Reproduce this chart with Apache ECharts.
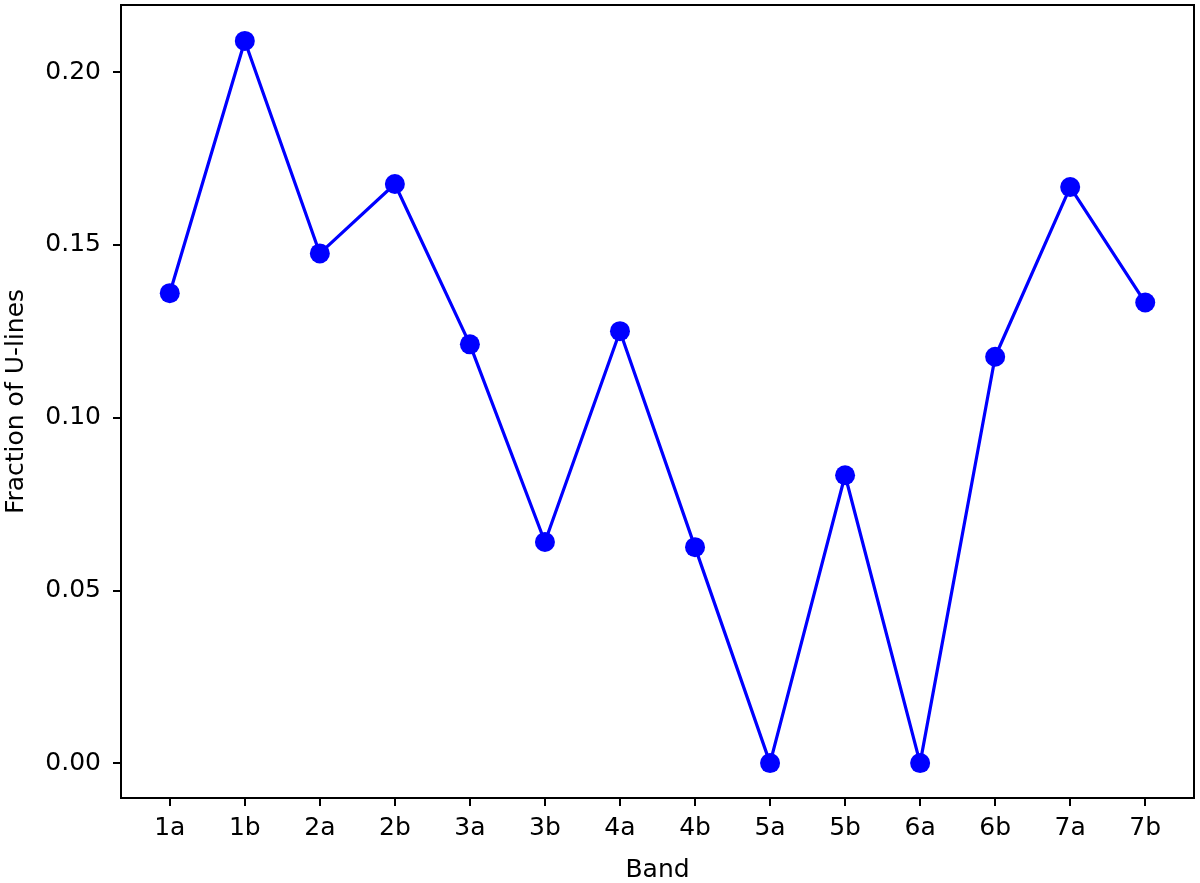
<!DOCTYPE html>
<html><head><meta charset="utf-8">
<script src="https://cdn.jsdelivr.net/npm/echarts@6/dist/echarts.min.js"></script>
<style>html,body{margin:0;padding:0;background:#fff}#c{width:1200px;height:883px}</style>
</head><body><div id="c"></div>
<script>
const bands = ['1a','1b','2a','2b','3a','3b','4a','4b','5a','5b','6a','6b','7a','7b'];
const fractions = [0.136, 0.209, 0.1475, 0.1676, 0.1212, 0.0640, 0.125, 0.0625, 0.0, 0.0833, 0.0, 0.1176, 0.1667, 0.1333];
const yTicks = [0, 0.05, 0.10, 0.15, 0.20];
const xTicks = bands.map((b, i) => i);

const font = 'DejaVu Sans';
const chart = echarts.init(document.getElementById('c'), null, {renderer: 'canvas'});
chart.setOption({
  animation: false,
  grid: {left: 121, right: 6, top: 5, bottom: 85, outerBoundsMode: 'none', containLabel: false,
    show: true, borderColor: '#000', borderWidth: 2, backgroundColor: 'transparent'},
  xAxis: {
    type: 'value', min: -0.65, max: 13.65,
    name: 'Band', nameLocation: 'middle', nameGap: 60,
    nameTextStyle: {fontFamily: font, fontSize: 25, color: '#000'},
    axisLine: {show: true, onZero: false, lineStyle: {color: '#000', width: 2}},
    axisTick: {show: true, length: 8, lineStyle: {color: '#000', width: 2}, customValues: xTicks},
    axisLabel: {fontFamily: font, fontSize: 25, color: '#000', margin: 18, customValues: xTicks,
      formatter: v => bands[Math.round(v)]},
    splitLine: {show: false}
  },
  yAxis: {
    type: 'value', min: -0.0101, max: 0.2194,
    name: 'Fraction of U-lines', nameLocation: 'middle', nameGap: 92,
    nameTextStyle: {fontFamily: font, fontSize: 25, color: '#000'},
    axisLine: {show: true, onZero: false, lineStyle: {color: '#000', width: 2}},
    axisTick: {show: true, length: 8, lineStyle: {color: '#000', width: 2}, customValues: yTicks},
    axisLabel: {fontFamily: font, fontSize: 25, color: '#000', margin: 20, customValues: yTicks,
      formatter: v => v.toFixed(2)},
    splitLine: {show: false}
  },
  series: [{
    type: 'line',
    data: fractions.map((v, i) => [i, v]),
    symbol: 'circle', symbolSize: 20,
    lineStyle: {color: '#0000ff', width: 3.2},
    itemStyle: {color: '#0000ff'}
  }]
});
</script></body></html>
